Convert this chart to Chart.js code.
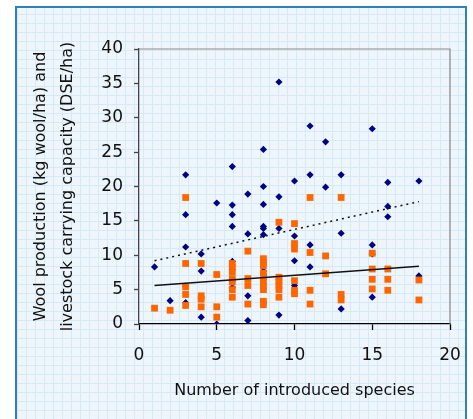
<!DOCTYPE html>
<html>
<head>
<meta charset="utf-8">
<script src="https://cdn.jsdelivr.net/npm/chart.js@4/dist/chart.umd.min.js"></script>
<style>
  html, body { margin: 0; padding: 0; background: #fff; }
  #stage { position: relative; width: 473px; height: 419px; overflow: hidden; }
  #frame {
    position: absolute; left: 15px; top: 6px; width: 448px; height: 430px;
    border: 2px solid #2f80bd; border-bottom: none;
    background-color: #eef6fc;
    background-image:
      repeating-linear-gradient(0deg, #d5e9f7 0 1px, transparent 1px 9px),
      repeating-linear-gradient(90deg, #d5e9f7 0 1px, transparent 1px 9px);
  }
  #chart { position: absolute; left: 0; top: 0; }
</style>
</head>
<body>
<div id="stage">
  <div id="frame"></div>
  <canvas id="chart" width="473" height="419"></canvas>
</div>
<script>
// blue diamonds: wool production (kg wool/ha)
const woolSpecies = [1, 2, 3, 3, 3, 3, 3, 4, 4, 4, 5, 5, 6, 6, 6, 6, 6, 6, 7, 7, 7, 7,
  8, 8, 8, 8, 8, 8, 8, 8, 9, 9, 9, 9, 10, 10, 10, 10, 11, 11, 11, 11, 12, 12,
  13, 13, 13, 15, 15, 15, 15, 16, 16, 16, 18, 18];
const woolValues = [8.3, 3.4, 21.7, 15.9, 11.2, 5.5, 3.1, 10.2, 7.7, 1.0, 17.6, 0, 22.9, 17.3, 15.9, 14.2, 9.1, 5.3, 18.9, 13.1, 4.1, 0.5,
  25.4, 20.0, 17.4, 14.2, 13.9, 13.0, 7.7, 3.2, 35.2, 18.5, 13.9, 1.3, 20.8, 12.8, 9.2, 5.6, 28.8, 21.7, 11.5, 8.3, 26.5, 19.9,
  21.7, 13.2, 2.2, 28.4, 11.5, 10.2, 3.9, 20.6, 17.1, 15.6, 20.8, 7.0];

// orange squares: livestock carrying capacity (DSE/ha)
const dseSpecies = [1, 2, 3, 3, 3, 3, 3, 4, 4, 4, 4, 5, 5, 5, 6, 6, 6, 6, 6, 6, 6, 7, 7, 7, 7,
  8, 8, 8, 8, 8, 8, 8, 8, 8, 8, 9, 9, 9, 9, 9, 9, 10, 10, 10, 10, 10, 10,
  11, 11, 11, 11, 12, 12, 13, 13, 13, 15, 15, 15, 15, 16, 16, 16, 18, 18];
const dseValues = [2.3, 2.0, 18.4, 8.8, 5.4, 4.3, 2.7, 8.8, 4.1, 3.6, 2.5, 7.2, 2.5, 1.0, 8.8, 8.2, 7.6, 6.6, 6.1, 5.0, 3.9, 10.6, 6.6, 5.6, 2.9,
  9.5, 9.0, 8.5, 7.4, 6.9, 6.2, 5.5, 5.0, 3.3, 2.8, 14.8, 6.8, 6.2, 5.6, 5.0, 3.9, 14.6, 11.7, 10.9, 6.3, 4.9, 4.4,
  18.4, 10.4, 4.9, 2.9, 9.9, 7.3, 18.4, 4.3, 3.5, 10.3, 8.0, 6.5, 5.1, 8.0, 6.5, 4.9, 6.4, 3.5];

// trend lines (end points)
const trendX = [1, 18];
const woolTrend = [9.2, 17.8];
const dseTrend = [5.6, 8.4];

const xTicks = [0, 5, 10, 15, 20];
const yTicks = [0, 5, 10, 15, 20, 25, 30, 35, 40];

const toPoints = (xs, ys) => xs.map((x, i) => ({ x, y: ys[i] }));
const font = { family: "'DejaVu Sans', Verdana, sans-serif" };

new Chart(document.getElementById("chart"), {
  type: "scatter",
  data: {
    datasets: [
      {
        type: "line",
        label: "Wool trend",
        data: toPoints(trendX, woolTrend),
        borderColor: "#111",
        borderWidth: 1.5,
        borderDash: [2, 4],
        pointRadius: 0,
        order: 0,
      },
      {
        type: "line",
        label: "DSE trend",
        data: toPoints(trendX, dseTrend),
        borderColor: "#111",
        borderWidth: 1.3,
        pointRadius: 0,
        order: 1,
      },
      {
        label: "Carrying capacity (DSE/ha)",
        data: toPoints(dseSpecies, dseValues),
        pointStyle: "rect",
        pointRadius: 4.8,
        backgroundColor: "#ff6600",
        borderColor: "#ff6600",
        borderWidth: 0,
        order: 2,
      },
      {
        label: "Wool production (kg wool/ha)",
        data: toPoints(woolSpecies, woolValues),
        pointStyle: "rectRot",
        pointRadius: 3.6,
        backgroundColor: "#000080",
        borderColor: "#000080",
        borderWidth: 0,
        order: 3,
      },
    ],
  },
  options: {
    responsive: false,
    animation: false,
    layout: { padding: { top: 49, right: 23, bottom: 0, left: 0 } },
    plugins: { legend: { display: false }, tooltip: { enabled: false } },
    scales: {
      x: {
        type: "linear",
        min: 0,
        max: 20,
        afterBuildTicks: (s) => { s.ticks = xTicks.map((v) => ({ value: v })); },
        afterFit: (s) => { s.height = 95; s.paddingLeft = 0; s.paddingRight = 0; },
        grid: { display: true, drawOnChartArea: false, drawTicks: true, tickLength: 6, tickColor: "#000", tickWidth: 1.3 },
        border: { display: true, color: "#000", width: 1.3 },
        ticks: { color: "#111", font: { ...font, size: 17 }, padding: 15 },
        title: {
          display: true,
          text: "Number of introduced species",
          color: "#111",
          font: { ...font, size: 16 },
          padding: { top: 4, bottom: 19 },
        },
      },
      y: {
        type: "linear",
        min: 0,
        max: 40,
        afterBuildTicks: (s) => { s.ticks = yTicks.map((v) => ({ value: v })); },
        afterFit: (s) => { s.width = 139; s.paddingTop = 0; s.paddingBottom = 0; },
        grid: { display: true, drawOnChartArea: false, drawTicks: true, tickLength: 5, tickColor: "#444", tickWidth: 1.3 },
        border: { display: true, color: "#444", width: 1.3 },
        ticks: { color: "#111", font: { ...font, size: 17 }, padding: 11 },
        title: {
          display: true,
          text: ["Wool production (kg wool/ha) and", "livestock carrying capacity (DSE/ha)"],
          color: "#111",
          font: { ...font, size: 16, lineHeight: 1.7 },
          padding: { top: 27, bottom: 0 },
        },
      },
    },
  },
  plugins: [{
    id: "plotBorder",
    afterDraw(chart) {
      const { ctx, chartArea: a } = chart;
      ctx.save();
      ctx.strokeStyle = "#8a8a8a";
      ctx.lineWidth = 1.2;
      ctx.beginPath();
      ctx.moveTo(a.left, a.top);
      ctx.lineTo(a.right, a.top);
      ctx.lineTo(a.right, a.bottom);
      ctx.stroke();
      ctx.restore();
    },
  }],
});
</script>
</body>
</html>
